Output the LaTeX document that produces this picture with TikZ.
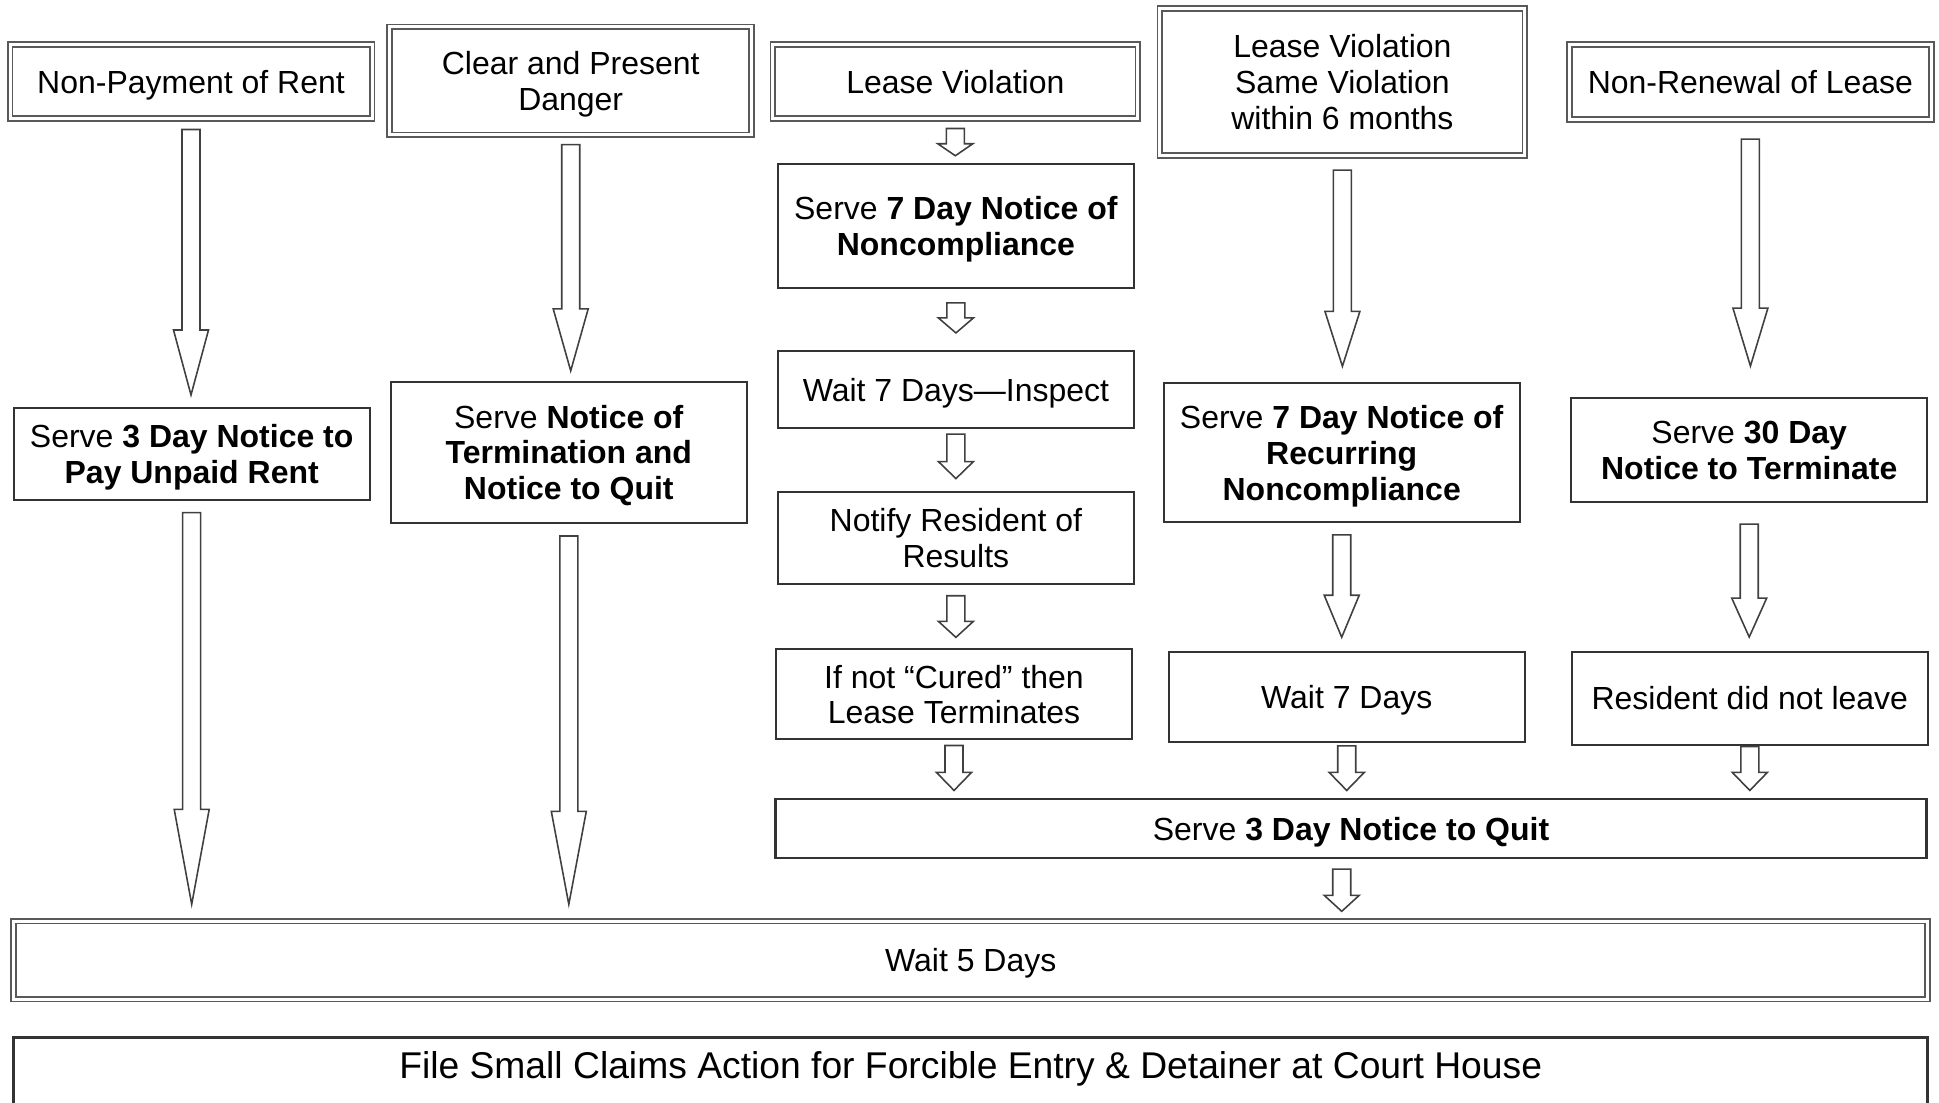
\documentclass[tikz,border=0pt]{standalone}
\usepackage{fontspec}
\setmainfont{Liberation Sans}
\usetikzlibrary{calc}

\tikzset{
  box/.style={draw=black!80, line width=0.6pt, fill=white, align=center, inner sep=0pt,
              text depth=0pt, font=\fontsize{9.1}{10.2}\selectfont},
  topbox/.style={box, draw=black!65, double=white, double distance=0.3mm, line width=0.5pt},
  % hollow block arrow: shaft half width, head half width, head length
  fat/.style n args={3}{draw=black!75, line width=0.45pt, fill=white,
    to path={let \p1=(\tikztostart), \p2=(\tikztotarget) in
      (\x1-#1,\y1) -- (\x1-#1,\y2+#3) -- (\x1-#2,\y2+#3) -- (\x1,\y2)
      -- (\x1+#2,\y2+#3) -- (\x1+#1,\y2+#3) -- (\x1+#1,\y1) -- cycle}},
  blockarrow/.style={fat={0.9mm}{1.75mm}{#1}},
  blockarrow/.default=1.6mm
}

\begin{document}
\begin{tikzpicture}[x=0.1mm, y=-0.1mm]
\useasboundingbox (0,0) rectangle (1939,1102);

% the five reasons along the top
\begin{scope}[every node/.style={topbox, minimum width=36.2mm}]
\node[minimum height=7.4mm]                      (rent)   at (191,81.6)    {Non-Payment of Rent};
\node[minimum height=10.8mm]                     (danger) at (570.7,80.8)  {Clear and Present\\Danger};
\node[minimum width=36.5mm, minimum height=7.4mm]  (lease)  at (955.3,81.6)  {Lease Violation};
\node[minimum width=36.5mm, minimum height=14.7mm] (again)  at (1342.4,82.2) {Lease Violation\\Same Violation\\within 6 months};
\node[minimum height=7.5mm]                      (renew)  at (1750.4,82.2) {Non-Renewal of Lease};
\end{scope}

\begin{scope}[every node/.style={box, minimum width=35.6mm}]
\node[minimum height=9.15mm]  (pay)     at (191.7,453.8)  {Serve \textbf{3 Day Notice to}\\\textbf{Pay Unpaid Rent}};
\node[minimum height=14.1mm]  (term)    at (568.8,452.4)  {Serve \textbf{Notice of}\\\textbf{Termination and}\\\textbf{Notice to Quit}};
\node[minimum height=12.4mm]  (comply)  at (955.9,226.3)  {Serve \textbf{7 Day Notice of}\\\textbf{Noncompliance}};
\node[minimum height=7.7mm]   (inspect) at (955.9,389.5)  {Wait 7 Days—Inspect};
\node[minimum height=9.15mm]  (notify)  at (955.9,537.9)  {Notify Resident of\\Results};
\node[minimum height=9mm]     (cured)   at (954,694.4)    {If not “Cured” then\\Lease Terminates};
\node[minimum height=13.85mm] (recur)   at (1341.7,452.6) {Serve \textbf{7 Day Notice of}\\\textbf{Recurring}\\\textbf{Noncompliance}};
\node[minimum height=9mm]     (wait)    at (1346.7,696.8) {Wait 7 Days};
\node[minimum height=10.4mm]  (thirty)  at (1749.2,450.1) {Serve \textbf{30 Day}\\\textbf{Notice to Terminate}};
\node[minimum height=9.3mm]   (stay)    at (1749.8,698.1) {Resident did not leave};
\node[minimum width=115.1mm, minimum height=5.9mm] (quit) at (1351,828.5) {Serve \textbf{3 Day Notice to Quit}};
\end{scope}

\node[topbox, minimum width=191.4mm, minimum height=7.8mm] (five) at (970.7,960.2) {Wait 5 Days};
\node[box, line width=0.8pt, minimum width=191.4mm, minimum height=8mm, anchor=north,
      font=\fontsize{10.6}{12}\selectfont, text height=2.7mm, text depth=2.5mm] (court) at (970.7,1036.3)
      {File Small Claims Action for Forcible Entry \& Detainer at Court House};

% block arrows between the steps
\draw[blockarrow=6.5mm] ([yshift=-1mm]rent.south)     to ([yshift=1.2mm]pay.north);
\draw[blockarrow=9.5mm] ([yshift=-1.2mm]pay.south)    to ([yshift=1.6mm]five.north);
\draw[blockarrow=6.2mm] ([yshift=-0.9mm]danger.south) to ([yshift=1mm]term.north);
\draw[blockarrow=9.3mm] ([yshift=-1.2mm]term.south)   to ([yshift=1.6mm]five.north);

\draw[blockarrow=1.2mm] ([yshift=-0.9mm]lease.south)    to ([yshift=0.75mm]comply.north);
\draw[blockarrow=1.5mm] ([yshift=-1.35mm]comply.south)  to ([yshift=1.7mm]inspect.north);
\draw[blockarrow=1.7mm] ([yshift=-0.5mm]inspect.south)  to ([yshift=1.25mm]notify.north);
\draw[blockarrow=1.6mm] ([yshift=-1.1mm]notify.south)   to ([yshift=1.1mm]cured.north);
\draw[blockarrow=1.8mm] ([yshift=-0.5mm]cured.south)    to ($(cured.south |- quit.north)+(0pt,0.75mm)$);

\draw[blockarrow=5.5mm] ([yshift=-1.35mm]again.south)   to ([yshift=1.6mm]recur.north);
\draw[blockarrow=4.2mm] ([yshift=-1.2mm]recur.south)    to ([yshift=1.35mm]wait.north);
\draw[blockarrow=1.8mm] ([yshift=-0.3mm]wait.south)     to ($(wait.south |- quit.north)+(0pt,0.75mm)$);

\draw[blockarrow=5.8mm] ([yshift=-1.85mm]renew.south)   to ([yshift=3.1mm]thirty.north);
\draw[blockarrow=3.9mm] ([yshift=-2.1mm]thirty.south)   to ([yshift=1.35mm]stay.north);
\draw[blockarrow=1.8mm] ([yshift=-0.1mm]stay.south)     to ($(stay.south |- quit.north)+(0pt,0.75mm)$);

\draw[blockarrow] ($(recur.south |- quit.south)+(0pt,-1mm)$) to ([yshift=0.9mm]five.north);
\end{tikzpicture}
\end{document}
